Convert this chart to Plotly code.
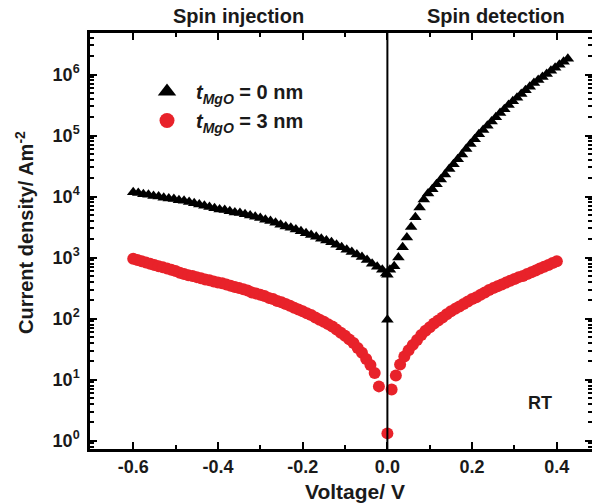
import plotly.graph_objects as go

# ---- data ----
# t_MgO = 0 nm (triangles): voltage (V) and log10 of current density (A/m^2)
v0_neg = [-0.600, -0.588, -0.576, -0.564, -0.552, -0.540, -0.528, -0.516, -0.504, -0.492,
          -0.480, -0.468, -0.456, -0.444, -0.432, -0.420, -0.408, -0.396, -0.384, -0.372,
          -0.360, -0.348, -0.336, -0.324, -0.312, -0.300, -0.288, -0.276, -0.264, -0.252,
          -0.240, -0.228, -0.216, -0.204, -0.192, -0.180, -0.168, -0.156, -0.144, -0.132,
          -0.120, -0.108, -0.096, -0.084, -0.072, -0.060, -0.048, -0.036, -0.024, -0.012,
          -0.003, 0.000, 0.000]
logj0_neg = [4.07, 4.06, 4.04, 4.03, 4.01, 4.00, 3.98, 3.97, 3.96, 3.94,
             3.93, 3.91, 3.89, 3.87, 3.85, 3.83, 3.81, 3.79, 3.78, 3.76,
             3.74, 3.73, 3.71, 3.69, 3.67, 3.65, 3.62, 3.60, 3.57, 3.54,
             3.51, 3.49, 3.46, 3.43, 3.40, 3.37, 3.34, 3.31, 3.28, 3.25,
             3.21, 3.17, 3.13, 3.09, 3.05, 3.01, 2.96, 2.90, 2.85, 2.80,
             2.74, 2.72, 1.98]
v0_pos = [0.006, 0.016, 0.026, 0.036, 0.046, 0.056, 0.066, 0.076, 0.086, 0.096,
          0.106, 0.116, 0.126, 0.136, 0.146, 0.156, 0.166, 0.176, 0.186, 0.196,
          0.206, 0.216, 0.226, 0.236, 0.246, 0.256, 0.266, 0.276, 0.286, 0.296,
          0.306, 0.316, 0.326, 0.336, 0.346, 0.356, 0.366, 0.376, 0.386, 0.396,
          0.406, 0.416, 0.426]
logj0_pos = [2.80, 2.86, 3.00, 3.17, 3.33, 3.50, 3.66, 3.82, 3.95, 4.05,
             4.12, 4.20, 4.28, 4.36, 4.45, 4.53, 4.61, 4.69, 4.78, 4.86,
             4.94, 5.02, 5.09, 5.16, 5.23, 5.30, 5.37, 5.43, 5.50, 5.56,
             5.62, 5.68, 5.74, 5.80, 5.86, 5.91, 5.96, 6.01, 6.06, 6.11,
             6.16, 6.21, 6.26]

# t_MgO = 3 nm (circles)
v3_neg = [-0.60, -0.59, -0.58, -0.57, -0.56, -0.55, -0.54, -0.53, -0.52, -0.51,
          -0.50, -0.49, -0.48, -0.47, -0.46, -0.45, -0.44, -0.43, -0.42, -0.41,
          -0.40, -0.39, -0.38, -0.37, -0.36, -0.35, -0.34, -0.33, -0.32, -0.31,
          -0.30, -0.29, -0.28, -0.27, -0.26, -0.25, -0.24, -0.23, -0.22, -0.21,
          -0.20, -0.19, -0.18, -0.17, -0.16, -0.15, -0.14, -0.13, -0.12, -0.11,
          -0.10, -0.09, -0.08, -0.07, -0.06, -0.05, -0.04, -0.03, -0.02, 0.00]
logj3_neg = [2.98, 2.96, 2.94, 2.92, 2.90, 2.88, 2.86, 2.84, 2.82, 2.80,
             2.78, 2.75, 2.73, 2.71, 2.70, 2.68, 2.66, 2.64, 2.63, 2.61,
             2.59, 2.58, 2.56, 2.54, 2.52, 2.50, 2.48, 2.46, 2.43, 2.41,
             2.39, 2.37, 2.34, 2.32, 2.29, 2.27, 2.24, 2.21, 2.18, 2.15,
             2.12, 2.09, 2.06, 2.02, 1.98, 1.95, 1.91, 1.87, 1.82, 1.77,
             1.72, 1.66, 1.60, 1.52, 1.44, 1.34, 1.24, 1.11, 0.89, 0.12]
v3_pos = [0.01, 0.02, 0.03, 0.04, 0.05, 0.06, 0.07, 0.08, 0.09, 0.10,
          0.11, 0.12, 0.13, 0.14, 0.15, 0.16, 0.17, 0.18, 0.19, 0.20,
          0.21, 0.22, 0.23, 0.24, 0.25, 0.26, 0.27, 0.28, 0.29, 0.30,
          0.31, 0.32, 0.33, 0.34, 0.35, 0.36, 0.37, 0.38, 0.39, 0.40]
logj3_pos = [0.84, 1.07, 1.25, 1.38, 1.48, 1.57, 1.65, 1.73, 1.80, 1.86,
             1.92, 1.97, 2.02, 2.07, 2.12, 2.16, 2.20, 2.24, 2.28, 2.32,
             2.35, 2.39, 2.43, 2.47, 2.50, 2.53, 2.56, 2.59, 2.62, 2.65,
             2.68, 2.70, 2.73, 2.76, 2.79, 2.82, 2.85, 2.88, 2.91, 2.94]

x_ticks = [-0.6, -0.4, -0.2, 0.0, 0.2, 0.4]
x_ticklabels = ["-0.6", "-0.4", "-0.2", "0.0", "0.2", "0.4"]
y_ticks = [1, 10, 100, 1000, 1e4, 1e5, 1e6]
y_ticklabels = ["10<sup>0</sup>", "10<sup>1</sup>", "10<sup>2</sup>", "10<sup>3</sup>",
                "10<sup>4</sup>", "10<sup>5</sup>", "10<sup>6</sup>"]
y_minor = [m * 10 ** d for d in range(-1, 7) for m in range(2, 10)]

name0 = "<b><i>t</i><sub><i>MgO</i></sub> = 0 nm</b>"
name3 = "<b><i>t</i><sub><i>MgO</i></sub> = 3 nm</b>"

FONT = "Liberation Sans"
RED = "#e8222a"
TXT = "#1a1a1a"

# plot area in pixels
L, R, T, B = 90, 592, 33, 449
W, H = 592, 504


def px(x):
    return (x - L) / (R - L)


def py(y):
    return (B - y) / (B - T)


fig = go.Figure()
fig.add_trace(go.Scatter(x=v3_neg + v3_pos, y=[10 ** v for v in logj3_neg + logj3_pos],
                         mode="markers", showlegend=False,
                         marker=dict(symbol="circle", size=12, color=RED)))
fig.add_trace(go.Scatter(x=v0_neg + v0_pos, y=[10 ** v for v in logj0_neg + logj0_pos],
                         mode="markers", showlegend=False,
                         marker=dict(symbol="triangle-up", size=11, color="black")))
# legend entries
fig.add_trace(go.Scatter(x=[None], y=[None], mode="markers", name=name0,
                         marker=dict(symbol="triangle-up", size=16, color="black")))
fig.add_trace(go.Scatter(x=[None], y=[None], mode="markers", name=name3,
                         marker=dict(symbol="circle", size=15, color=RED)))

fig.add_shape(type="line", xref="x", yref="paper", x0=0, x1=0, y0=0, y1=1,
              line=dict(color="black", width=2))

fig.update_layout(
    width=W, height=H,
    margin=dict(l=L, r=W - R, t=T, b=H - B, autoexpand=False),
    paper_bgcolor="white", plot_bgcolor="white",
    font=dict(family=FONT, color=TXT),
    showlegend=True,
    legend=dict(x=px(138), y=py(72), xanchor="left", yanchor="top",
                bgcolor="rgba(0,0,0,0)", font=dict(size=20, family=FONT, color=TXT),
                itemsizing="trace", itemwidth=48, tracegroupgap=0),
)
fig.update_xaxes(
    range=[-0.702, 0.483], tickvals=x_ticks, ticktext=x_ticklabels, automargin=False,
    showgrid=False, zeroline=False, showline=True, linecolor="black", linewidth=2.5,
    mirror="allticks", ticks="inside", ticklen=7, tickwidth=2, tickcolor="black",
    tickfont=dict(size=18, family=FONT, color=TXT, weight="bold"),
    minor=dict(dtick=0.1, tick0=0, ticks="inside", ticklen=4, tickwidth=1.5,
               tickcolor="black", showgrid=False),
)
fig.update_yaxes(
    type="log", range=[-0.136, 6.68], tickvals=y_ticks, ticktext=y_ticklabels,
    automargin=False,
    showgrid=False, zeroline=False, showline=True, linecolor="black", linewidth=2.5,
    mirror="allticks", ticks="inside", ticklen=7, tickwidth=2, tickcolor="black",
    tickfont=dict(size=18, family=FONT, color=TXT, weight="bold"),
    ticklabelstandoff=4,
    minor=dict(tickvals=y_minor, ticks="inside", ticklen=4, tickwidth=1.5,
               tickcolor="black", showgrid=False),
)

# axis titles
fig.add_annotation(text="<b>Voltage/ V</b>", xref="paper", yref="paper",
                   x=px(355), y=py(491), xanchor="center", yanchor="middle",
                   showarrow=False, font=dict(size=21, family=FONT, color=TXT))
fig.add_annotation(text="<b>Current density/ Am<sup>-2</sup></b>", xref="paper", yref="paper",
                   x=px(25), y=py(233), xanchor="center", yanchor="middle", textangle=-90,
                   showarrow=False, font=dict(size=20, family=FONT, color=TXT))
# region labels
fig.add_annotation(text="<b>Spin injection</b>", xref="paper", yref="paper",
                   x=px(238), y=py(16), xanchor="center", yanchor="middle",
                   showarrow=False, font=dict(size=20, family=FONT, color=TXT))
fig.add_annotation(text="<b>Spin detection</b>", xref="paper", yref="paper",
                   x=px(496), y=py(16), xanchor="center", yanchor="middle",
                   showarrow=False, font=dict(size=20, family=FONT, color=TXT))
fig.add_annotation(text="<b>RT</b>", xref="paper", yref="paper",
                   x=px(540), y=py(403), xanchor="center", yanchor="middle",
                   showarrow=False, font=dict(size=18, family=FONT, color=TXT))

fig.write_html("out.html", config={"displayModeBar": False},
               post_script="document.body.style.margin='0';document.body.style.overflow='hidden';")
